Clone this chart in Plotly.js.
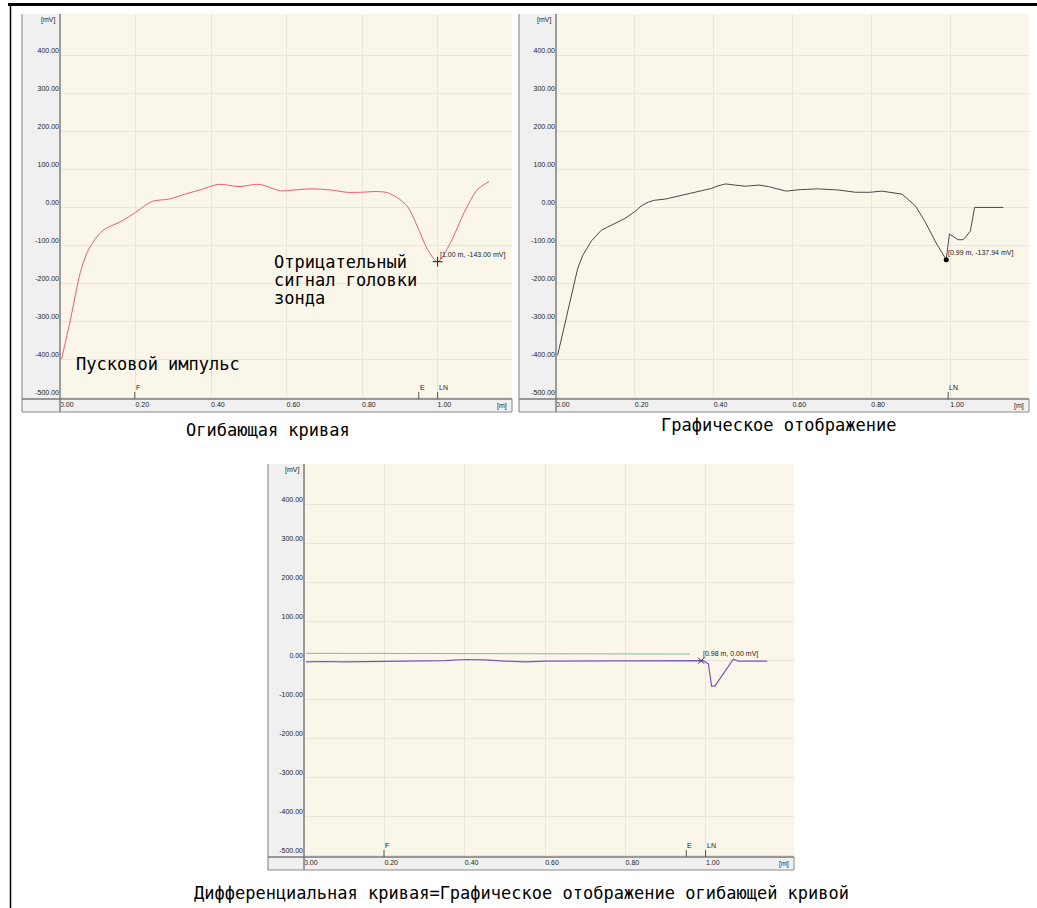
<!DOCTYPE html>
<html><head><meta charset="utf-8">
<script src="https://cdn.plot.ly/plotly-3.0.1.min.js"></script>
<style>html,body{margin:0;padding:0;background:#fff;}#chart{width:1037px;height:908px;}</style>
</head><body><div id="chart"></div>
<script>
// ---------- data ----------
const envX = [0.004,0.028,0.054,0.076,0.112,0.165,0.20,0.244,0.288,0.341,0.377,0.42,0.474,0.527,0.584,0.619,0.664,0.717,0.76,0.796,0.84,0.867,0.893,0.92,0.946,0.973,1.00,1.034,1.07,1.105,1.136];
const envY = [-400,-294,-171,-110,-62,-35,-13,16,22,38,48,61,55,61,44,46,49,46,40,40,42,39,26,3,-49,-110,-143,-93,-14,47,68];

const grX = [0.004,0.03,0.055,0.068,0.09,0.115,0.149,0.175,0.2,0.216,0.234,0.25,0.277,0.318,0.362,0.394,0.411,0.43,0.454,0.48,0.515,0.539,0.584,0.62,0.664,0.717,0.76,0.796,0.827,0.878,0.912,0.937,0.963,0.99,0.998,1.02,1.033,1.051,1.062,1.135];
const grY = [-390,-274,-161,-126,-88,-60,-42,-29,-11,4,14,19,22,32,43,50,57,62,59,56,59,55,43,47,49,46,40,40,43,35,4,-39,-91,-138,-70,-85,-85,-63,0,0];

const difX = [0.005,0.05,0.1,0.2,0.3,0.35,0.4,0.45,0.5,0.55,0.6,0.7,0.8,0.9,0.935,0.98,0.993,1.006,1.014,1.022,1.043,1.068,1.08,1.152];
const difY = [-3,-2,-3,-2,-1,0,3,2,-1,-3,-1,-1,-1,0,0,0,0,-8,-65,-65,-34,4,-1,-1];

const refX = [0.005,0.96];
const refY = [19,17];

const yTicks = [-500,-400,-300,-200,-100,0,100,200,300,400];
const yTickText = ["-500.00","-400.00","-300.00","-200.00","-100.00","0.00","100.00","200.00","300.00","400.00"];
const xTicks = [0,0.2,0.4,0.6,0.8,1.0];
const xTickText = ["0.00","0.20","0.40","0.60","0.80","1.00"];

const cursorEnv = {x:[1.00], y:[-143.00], label:"[1.00 m, -143.00 mV]"};
const cursorGr  = {x:[0.99], y:[-137.94], label:"[0.99 m, -137.94 mV]"};
const cursorDif = {x:[0.988], y:[0.00], label:"[0.98 m, 0.00 mV]"};

const marksEnv = [["F",0.198],["E",0.95],["LN",1.0]];
const marksGr  = [["LN",0.995]];
const marksDif = [["F",0.199],["E",0.951],["LN",0.999]];

const captions = ["Огибающая кривая","Графическое отображение","Дифференциальная кривая=Графическое отображение огибающей кривой"];
const noteStart = "Пусковой импульс";
const noteProbe = ["Отрицательный","сигнал головки","зонда"];

// ---------- layout helpers ----------
const W = 1037, H = 908;
const px = x => x / W;
const py = y => 1 - y / H;
const smallFont = {family:"Liberation Sans Narrow, Liberation Sans, Arial, sans-serif", size:7, color:"#222"};
const monoFont = {family:"DejaVu Sans Mono, monospace", size:17, color:"#000"};

const panels = [
  {L:60, R:512, T:14, B:399, Lb:22, Bb:412, xr:[0,1.197], yr:[-505,510], ax:"", marks:marksEnv},
  {L:556, R:1029, T:14, B:399, Lb:519, Bb:412, xr:[0,1.200], yr:[-505,510], ax:"2", marks:marksGr},
  {L:304, R:794, T:464, B:857, Lb:268, Bb:870, xr:[0,1.219], yr:[-503,504], ax:"3", marks:marksDif}
];

const layout = {
  width: W, height: H, margin:{l:0,r:0,t:0,b:0},
  paper_bgcolor:"#ffffff", plot_bgcolor:"#FAF6EA",
  showlegend:false, shapes:[], annotations:[]
};

panels.forEach(p => {
  const xa = {
    domain:[px(p.L), px(p.R)], range:p.xr, tickmode:"array", tickvals:xTicks, ticktext:xTickText,
    showgrid:true, gridcolor:"#E8E5DB", gridwidth:1, zeroline:false, showline:false, ticks:"",
    ticklabelposition:"outside right", tickfont:smallFont, fixedrange:true, anchor:"y"+p.ax
  };
  const ya = {
    domain:[py(p.B), py(p.T)], range:p.yr, tickmode:"array", tickvals:yTicks, ticktext:yTickText,
    showgrid:true, gridcolor:"#E8E5DB", gridwidth:1, zeroline:false, showline:false, ticks:"",
    ticklabelposition:"outside top", tickfont:smallFont, fixedrange:true, anchor:"x"+p.ax
  };
  layout["xaxis"+p.ax] = xa;
  layout["yaxis"+p.ax] = ya;
  const S = layout.shapes;
  S.push({type:"rect", xref:"paper", yref:"paper", x0:px(p.Lb), x1:px(p.L), y0:py(p.Bb), y1:py(p.T), fillcolor:"#F0F0F0", line:{width:0}, layer:"below"});
  S.push({type:"rect", xref:"paper", yref:"paper", x0:px(p.L), x1:px(p.R), y0:py(p.Bb), y1:py(p.B), fillcolor:"#F0F0F0", line:{width:0}, layer:"below"});
  S.push({type:"line", xref:"paper", yref:"paper", x0:px(p.Lb), x1:px(p.Lb), y0:py(p.T), y1:py(p.Bb), line:{color:"#7a7a7a", width:1}});
  S.push({type:"line", xref:"paper", yref:"paper", x0:px(p.Lb), x1:px(p.R), y0:py(p.Bb), y1:py(p.Bb), line:{color:"#8a8a8a", width:1}});
  S.push({type:"line", xref:"paper", yref:"paper", x0:px(p.R), x1:px(p.R), y0:py(p.B), y1:py(p.Bb), line:{color:"#8a8a8a", width:1}});
  S.push({type:"line", xref:"paper", yref:"paper", x0:px(p.L), x1:px(p.L), y0:py(p.T), y1:py(p.Bb), line:{color:"#9a9a9a", width:2}});
  S.push({type:"line", xref:"paper", yref:"paper", x0:px(p.Lb), x1:px(p.R), y0:py(p.B), y1:py(p.B), line:{color:"#7a7a7a", width:1.5}});
  const hFrac = 7 / (p.B - p.T);
  p.marks.forEach(m => {
    S.push({type:"line", xref:"x"+p.ax, yref:"y"+p.ax+" domain", x0:m[1], x1:m[1], y0:0, y1:hFrac, line:{color:"#555", width:1}});
    layout.annotations.push({xref:"x"+p.ax, yref:"y"+p.ax+" domain", x:m[1], y:hFrac, text:m[0], showarrow:false, xanchor:"left", yanchor:"bottom", xshift:-1, yshift:-1, font:smallFont});
  });
  layout.annotations.push({xref:"paper", yref:"paper", x:px(p.L-3), y:py(p.T+6), text:"[mV]", showarrow:false, xanchor:"right", yanchor:"middle", font:smallFont});
  layout.annotations.push({xref:"paper", yref:"paper", x:px(p.R-3), y:py((p.B+p.Bb)/2), text:"[m]", showarrow:false, xanchor:"right", yanchor:"middle", font:smallFont});
});

layout.shapes.push({type:"line", xref:"paper", yref:"paper", x0:px(8), x1:1, y0:py(4.5), y1:py(4.5), line:{color:"#000", width:3}});
layout.shapes.push({type:"line", xref:"paper", yref:"paper", x0:px(10.5), x1:px(10.5), y0:py(3), y1:0, line:{color:"#000", width:1.5}});

[[cursorEnv,""],[cursorGr,"2"],[cursorDif,"3"]].forEach(([c,ax]) => {
  layout.annotations.push({xref:"x"+ax, yref:"y"+ax, x:c.x[0], y:c.y[0], text:c.label, showarrow:false, xanchor:"left", yanchor:"bottom", xshift:0, yshift:1, font:smallFont});
});

layout.annotations.push({xref:"paper", yref:"paper", x:px(268), y:py(430), text:captions[0], showarrow:false, xanchor:"center", yanchor:"middle", font:monoFont});
layout.annotations.push({xref:"paper", yref:"paper", x:px(778), y:py(425), text:captions[1], showarrow:false, xanchor:"center", yanchor:"middle", font:monoFont});
layout.annotations.push({xref:"paper", yref:"paper", x:px(521), y:py(893), text:captions[2], showarrow:false, xanchor:"center", yanchor:"middle", font:monoFont});
layout.annotations.push({xref:"paper", yref:"paper", x:px(74), y:py(364), text:noteStart, showarrow:false, xanchor:"left", yanchor:"middle", font:monoFont});
noteProbe.forEach((t,i) => {
  layout.annotations.push({xref:"paper", yref:"paper", x:px(272), y:py(262 + i*18), text:t, showarrow:false, xanchor:"left", yanchor:"middle", font:monoFont});
});

// ---------- traces ----------
const traces = [
  {x:envX, y:envY, xaxis:"x", yaxis:"y", mode:"lines", line:{color:"#F05A73", width:1, shape:"spline", smoothing:0.8}, hoverinfo:"skip"},
  {x:cursorEnv.x, y:cursorEnv.y, xaxis:"x", yaxis:"y", mode:"markers", marker:{symbol:"cross-thin", size:7, line:{color:"#222", width:1}}, hoverinfo:"skip"},
  {x:grX, y:grY, xaxis:"x2", yaxis:"y2", mode:"lines", line:{color:"#4a4a4a", width:1}, hoverinfo:"skip"},
  {x:cursorGr.x, y:cursorGr.y, xaxis:"x2", yaxis:"y2", mode:"markers", marker:{symbol:"circle", size:5, color:"#000"}, hoverinfo:"skip"},
  {x:refX, y:refY, xaxis:"x3", yaxis:"y3", mode:"lines", line:{color:"#86B890", width:1}, hoverinfo:"skip"},
  {x:difX, y:difY, xaxis:"x3", yaxis:"y3", mode:"lines", line:{color:"#7A55B8", width:1.2}, hoverinfo:"skip"},
  {x:cursorDif.x, y:cursorDif.y, xaxis:"x3", yaxis:"y3", mode:"markers", marker:{symbol:"x-thin", size:6, line:{color:"#333", width:1}}, hoverinfo:"skip"}
];

Plotly.newPlot("chart", traces, layout, {staticPlot:true, displayModeBar:false});
</script>
</body></html>
